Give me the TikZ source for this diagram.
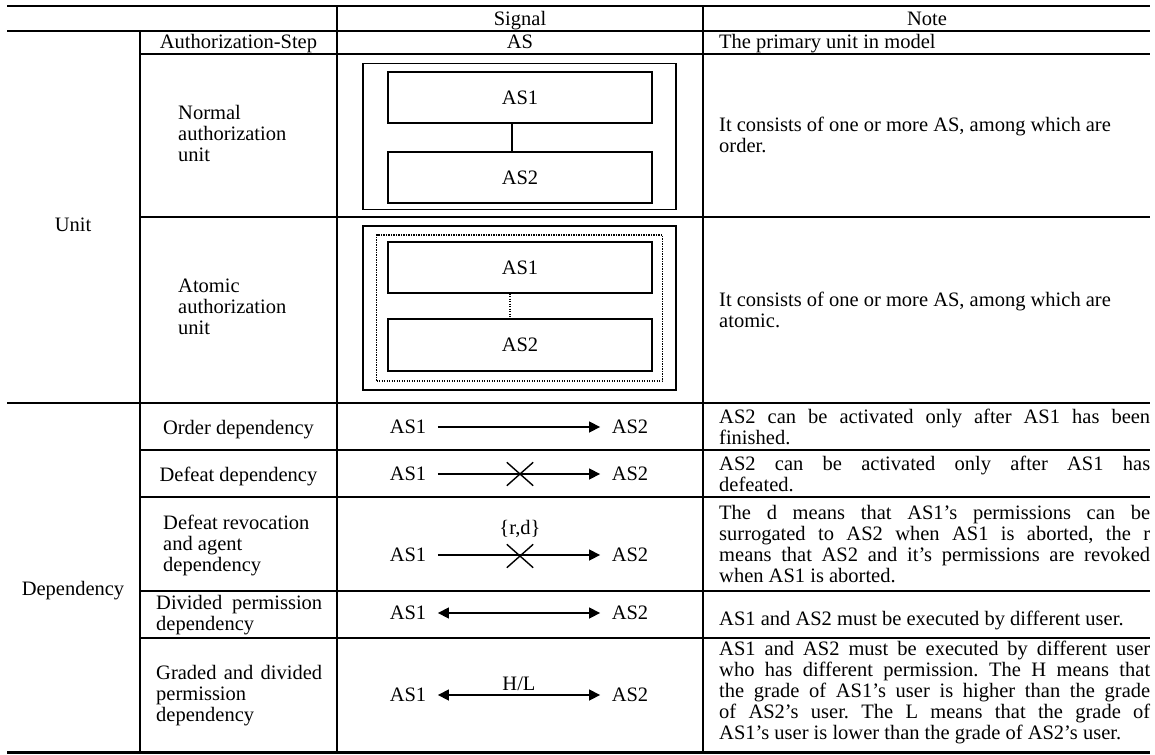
\documentclass[tikz,border=0pt]{standalone}
\usepackage{fontspec}
\setmainfont{Liberation Serif}
\usetikzlibrary{arrows.meta,shapes.misc}
\frenchspacing

% width of a justified line in the note column
\newlength\notew
\setlength\notew{431pt}
% one line with its interword spaces stretched to the given width
\newcommand\jline[2][\notew]{\makebox[#1][s]{#2}}

\begin{document}
\begin{tikzpicture}[x=1pt,y=-1pt,
  rule/.style={line width=2.4pt},
  toprule/.style={line width=2.8pt},
  txt/.style={font=\fontsize{20.5}{21}\selectfont, inner sep=0pt},
  one/.style={txt, anchor=base},
  frame/.style={draw, line width=1.6pt, inner sep=0pt},
  dotframe/.style={draw, line width=1.2pt, dash pattern=on 1.2pt off 1.3pt, inner sep=0pt},
  asbox/.style={txt, draw, line width=1.4pt, minimum width=264pt},
  lbl/.style={txt, inner xsep=11.5pt},
  >={Triangle[length=11pt,width=11pt]},
  link/.style={line width=1.6pt, ->},
  dlink/.style={line width=1.6pt, <->},
  xmark/.style={cross out, draw, line width=1.4pt, minimum width=25pt, minimum height=22pt, inner sep=0pt}
]
\useasboundingbox (0,0) rectangle (1155,754);

% ---- table rules ----
\draw[toprule] (7,6) -- (1150,6);
\draw[rule] (7,31) -- (1150,31);
\draw[rule] (140,54) -- (1150,54);
\draw[rule] (140,217) -- (1150,217);
\draw[rule] (7,403) -- (1150,403);
\draw[rule] (140,450) -- (1150,450);
\draw[rule] (140,497) -- (1150,497);
\draw[rule] (140,591) -- (1150,591);
\draw[rule] (140,638) -- (1150,638);
\draw[rule] (7,752.5) -- (1150,752.5);
\draw[rule] (140,31) -- (140,752.5);
\draw[rule] (337,6) -- (337,752.5);
\draw[rule] (703,6) -- (703,752.5);

% ---- header ----
\node[one] (hsig) at (520,25.5) {Signal};
\node[one] (hnote) at (927,25.5) {Note};

% ---- first column ----
\node[one] (unit) at (73,231) {Unit};
\node[one] (dep) at (73,595) {Dependency};

% ---- second column ----
\node[one] (cas) at (238.5,49) {Authorization-Step};
\node[txt, anchor=west, align=left] (cnorm) at (178,133) {Normal\\authorization\\unit};
\node[txt, anchor=west, align=left] (catom) at (178,307) {Atomic\\authorization\\unit};
\node[one] (cord) at (238.5,434) {Order dependency};
\node[one] (cdef) at (238.5,481) {Defeat dependency};
\node[txt, anchor=west, align=left] (crev) at (163,545) {Defeat revocation\\and agent\\dependency};
\node[txt, anchor=west, align=left] (cdiv) at (156,615) {\jline[166pt]{Divided permission}\\dependency};
\node[txt, anchor=west, align=left] (cgrd) at (156,696) {\jline[166pt]{Graded and divided}\\permission\\dependency};

% ---- signal column ----
\node[one] (sas) at (520,49) {AS};

% normal authorization unit
\node[frame, minimum width=313pt, minimum height=146pt] (nu) at (519.5,136.5) {};
\node[asbox, minimum height=51pt] (n1) at (520,97.5) {AS1};
\node[asbox, minimum height=51pt] (n2) at (520,177.5) {AS2};
\draw[line width=1.4pt] ([xshift=-8pt]n1.south) -- ([xshift=-8pt]n2.north);

% atomic authorization unit
\node[frame, minimum width=313pt, minimum height=164pt] (au) at (519.5,308) {};
\node[dotframe, minimum width=286pt, minimum height=146pt] (ad) at (519.5,308) {};
\node[asbox, minimum height=51pt] (a1) at (520,267.5) {AS1};
\node[asbox, minimum height=52pt] (a2) at (520,345) {AS2};
\draw[line width=1.2pt, dash pattern=on 1.2pt off 1.3pt] ([xshift=-10pt]a1.south) -- ([xshift=-10pt]a2.north);

% order dependency
\node[lbl] (o1) at (408,427) {AS1};
\node[lbl] (o2) at (630,427) {AS2};
\draw[link] (o1) -- (o2);

% defeat dependency
\node[lbl] (f1) at (408,474) {AS1};
\node[lbl] (f2) at (630,474) {AS2};
\draw[link] (f1) -- (f2);
\node[xmark] (fx) at (520,474) {};

% defeat revocation and agent dependency
\node[lbl] (r1) at (408,555) {AS1};
\node[lbl] (r2) at (630,555) {AS2};
\draw[link] (r1) -- (r2);
\node[xmark] (rx) at (520,556) {};
\node[one] (rd) at (520,534) {\{r,d\}};

% divided permission dependency
\node[lbl] (d1) at (408,613) {AS1};
\node[lbl] (d2) at (630,613) {AS2};
\draw[dlink] (d1) -- (d2);

% graded and divided permission dependency
\node[lbl] (g1) at (408,695) {AS1};
\node[lbl] (g2) at (630,695) {AS2};
\draw[dlink] (g1) -- node[txt, above=4pt] (hl) {H/L} (g2);

% ---- note column ----
\node[one, anchor=base west] (nas) at (719,49) {The primary unit in model};
\node[txt, anchor=west, align=left] (nnorm) at (719,135) {It consists of one or more AS, among which are\\order.};
\node[txt, anchor=west, align=left] (natom) at (719,309.5) {It consists of one or more AS, among which are\\atomic.};
\node[txt, anchor=west, align=left] (nord) at (719,427) {\jline{AS2 can be activated only after AS1 has been}\\finished.};
\node[txt, anchor=west, align=left] (ndef) at (719,474) {\jline{AS2 can be activated only after AS1 has}\\defeated.};
\node[txt, anchor=west, align=left] (nrev) at (719,544.5) {\jline{The d means that AS1’s permissions can be}\\\jline{surrogated to AS2 when AS1 is aborted, the r}\\\jline{means that AS2 and it’s permissions are revoked}\\when AS1 is aborted.};
\node[one, anchor=base west] (ndiv) at (719,625) {AS1 and AS2 must be executed by different user.};
\node[txt, anchor=west, align=left] (ngrd) at (719,692) {\jline{AS1 and AS2 must be executed by different user}\\\jline{who has different permission. The H means that}\\\jline{the grade of AS1’s user is higher than the grade}\\\jline{of AS2’s user. The L means that the grade of}\\AS1’s user is lower than the grade of AS2’s user.};
\end{tikzpicture}
\end{document}
